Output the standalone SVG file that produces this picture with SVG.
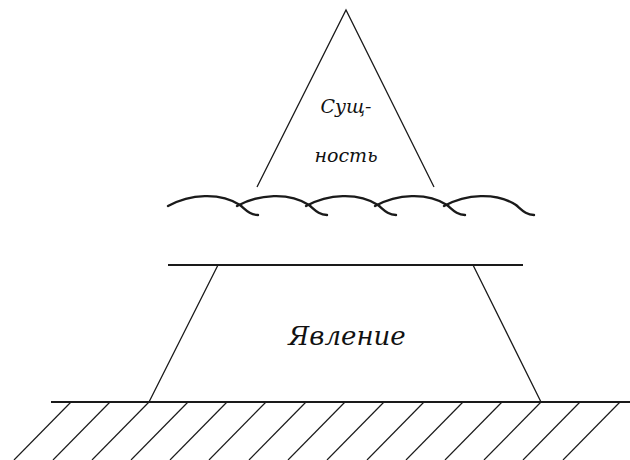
<svg xmlns="http://www.w3.org/2000/svg" xmlns:xlink="http://www.w3.org/1999/xlink" width="630" height="460" viewBox="0 0 630 460">
<style>
.thin{stroke:#1a1a1a;stroke-width:1.3;fill:none}
.thick{stroke:#1a1a1a;stroke-width:2.2;fill:none}
.wave{stroke:#1a1a1a;stroke-width:2.4;fill:none;stroke-linecap:round}
.hatch{stroke:#1a1a1a;stroke-width:1.2}
.lbl{font-style:italic;fill:#111;text-anchor:middle}
</style>
<defs>
<path id="wv" d="M0,8 C22,-4 52,-6 72,7 C78,12 82,17 90,17"/>
<line id="h" x1="0" y1="0" x2="-57" y2="58"/>
</defs>
<rect width="630" height="460" fill="#fff"/>
<g id="essence">
<path class="thin" d="M257,187 L346,10 L434,187"/>
<text class="lbl" font-family="DejaVu Serif, serif" x="346" y="113" font-size="19">Сущ-</text>
<text class="lbl" font-family="DejaVu Serif, serif" x="346" y="162" font-size="19">ность</text>
</g>
<g id="waves">
<use href="#wv" xlink:href="#wv" class="wave" x="168" y="198"/>
<use href="#wv" xlink:href="#wv" class="wave" x="237" y="198"/>
<use href="#wv" xlink:href="#wv" class="wave" x="306" y="198"/>
<use href="#wv" xlink:href="#wv" class="wave" x="375" y="198"/>
<use href="#wv" xlink:href="#wv" class="wave" x="444" y="198"/>
</g>
<g id="phenomenon">
<line class="thick" x1="168" y1="265" x2="523" y2="265"/>
<path class="thin" d="M218,265 L149,402 M473,265 L541,402" stroke-width="1.6"/>
<text class="lbl" font-family="DejaVu Serif, serif" x="347" y="345" font-size="26">Явление</text>
</g>
<g id="ground">
<line class="thick" x1="51" y1="402" x2="630" y2="402"/>
<g class="hatch">
<use href="#h" xlink:href="#h" x="71" y="402"/>
<use href="#h" xlink:href="#h" x="110" y="402"/>
<use href="#h" xlink:href="#h" x="149" y="402"/>
<use href="#h" xlink:href="#h" x="188" y="402"/>
<use href="#h" xlink:href="#h" x="227" y="402"/>
<use href="#h" xlink:href="#h" x="266" y="402"/>
<use href="#h" xlink:href="#h" x="306" y="402"/>
<use href="#h" xlink:href="#h" x="345" y="402"/>
<use href="#h" xlink:href="#h" x="384" y="402"/>
<use href="#h" xlink:href="#h" x="424" y="402"/>
<use href="#h" xlink:href="#h" x="463" y="402"/>
<use href="#h" xlink:href="#h" x="502" y="402"/>
<use href="#h" xlink:href="#h" x="541" y="402"/>
<use href="#h" xlink:href="#h" x="580" y="402"/>
<use href="#h" xlink:href="#h" x="620" y="402"/>
</g>
</g>
</svg>
